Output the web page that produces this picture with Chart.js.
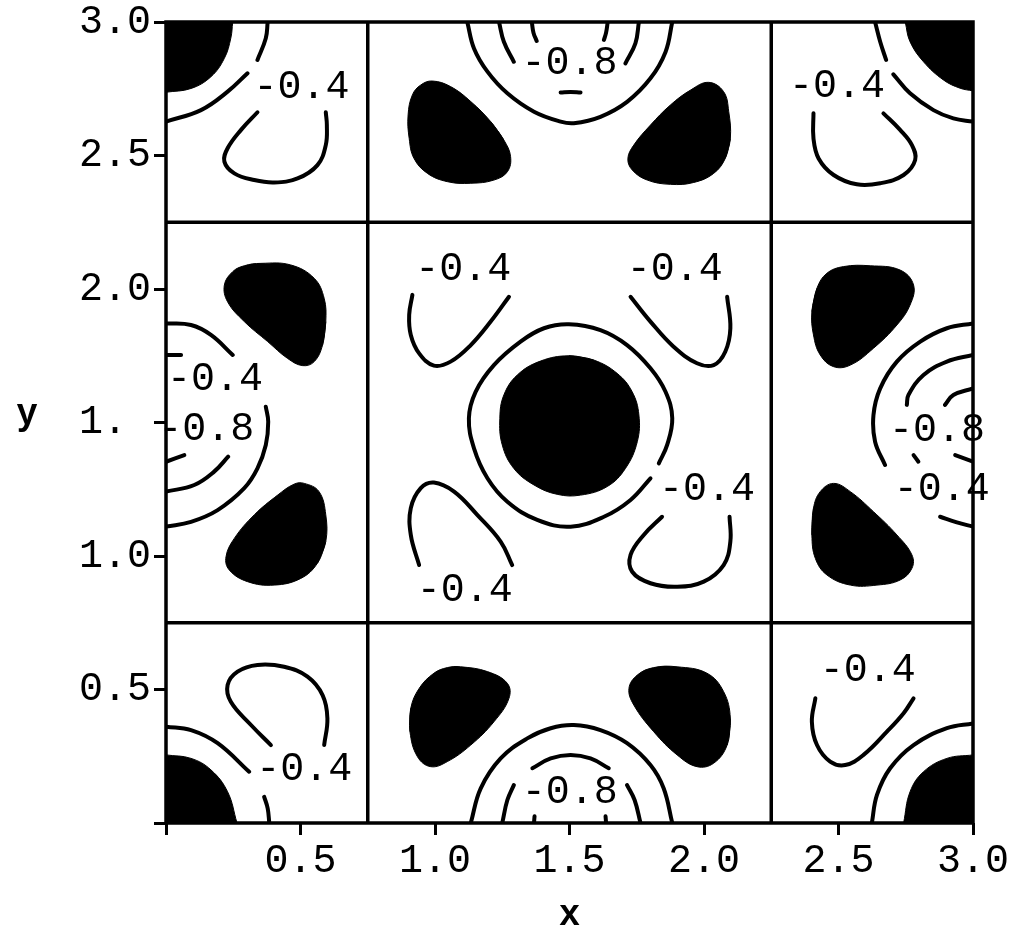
<!DOCTYPE html>
<html>
<head>
<meta charset="utf-8">
<script src="https://cdn.jsdelivr.net/npm/chart.js@4.4.1/dist/chart.umd.min.js"></script>
<style>
  html, body { margin: 0; padding: 0; background: #fff; }
  canvas { display: block; }
</style>
</head>
<body>
<canvas id="contour-chart" width="1012" height="932"></canvas>
<script>
// tick text, indexed by value * 2
const xTickText = ['', '0.5', '1.0', '1.5', '2.0', '2.5', '3.0'];
const yTickText = ['', '0.5', '1.0', '1. ', '2.0', '2.5', '3.0'];
const cellEdges = [0.75, 2.25];

// filled islands, closed outlines [x, y]
const blobCenter = [[1.498,1.750],[1.590,1.734],[1.677,1.684],[1.733,1.615],[1.758,1.528],[1.752,1.428],[1.708,1.328],[1.640,1.260],[1.541,1.228],[1.454,1.231],[1.368,1.266],[1.293,1.328],[1.250,1.416],[1.241,1.516],[1.256,1.603],[1.306,1.678],[1.392,1.730]];
const blobTopL = [[1.207,2.627],[1.256,2.558],[1.281,2.496],[1.269,2.439],[1.219,2.408],[1.133,2.396],[1.046,2.402],[0.972,2.433],[0.922,2.489],[0.904,2.564],[0.900,2.652],[0.916,2.727],[0.947,2.764],[0.990,2.779],[1.058,2.758],[1.133,2.702]];
const blobTopR = [[2.098,2.564],[2.079,2.489],[2.036,2.433],[1.962,2.399],[1.875,2.392],[1.789,2.408],[1.733,2.446],[1.717,2.489],[1.739,2.539],[1.801,2.614],[1.875,2.689],[1.950,2.745],[2.017,2.774],[2.073,2.739],[2.092,2.664]];
const blobMidLU = [[0.594,1.878],[0.582,1.790],[0.551,1.728],[0.508,1.713],[0.452,1.740],[0.378,1.803],[0.291,1.878],[0.229,1.952],[0.217,2.015],[0.248,2.065],[0.291,2.087],[0.353,2.096],[0.464,2.090],[0.551,2.040],[0.588,1.965]];
const blobMidLD = [[0.594,1.054],[0.563,0.973],[0.501,0.916],[0.402,0.891],[0.303,0.904],[0.235,0.948],[0.223,0.997],[0.254,1.066],[0.328,1.154],[0.415,1.228],[0.476,1.269],[0.514,1.272],[0.569,1.241],[0.594,1.154]];
const blobMidRU = [[2.401,1.915],[2.420,2.003],[2.457,2.059],[2.519,2.084],[2.618,2.087],[2.729,2.071],[2.779,2.015],[2.766,1.940],[2.717,1.865],[2.630,1.778],[2.544,1.715],[2.482,1.709],[2.432,1.753],[2.407,1.828]];
const blobMidRD = [[2.401,1.079],[2.407,1.179],[2.432,1.241],[2.482,1.272],[2.544,1.241],[2.630,1.166],[2.717,1.079],[2.773,1.004],[2.773,0.954],[2.729,0.910],[2.643,0.891],[2.544,0.891],[2.457,0.929],[2.414,0.991]];
const blobBotL = [[0.907,0.342],[0.910,0.430],[0.941,0.504],[0.996,0.561],[1.046,0.582],[1.095,0.585],[1.195,0.567],[1.269,0.523],[1.275,0.467],[1.219,0.379],[1.133,0.292],[1.046,0.230],[0.984,0.211],[0.935,0.248]];
const blobBotR = [[2.098,0.392],[2.086,0.292],[2.036,0.224],[1.974,0.211],[1.900,0.255],[1.813,0.342],[1.739,0.442],[1.721,0.504],[1.752,0.554],[1.813,0.582],[1.900,0.585],[2.011,0.561],[2.073,0.492]];

// corner caps: edge of the fill, filled out to the top or bottom of the plot
const capTopL = [[0.0,2.737],[0.093,2.751],[0.167,2.795],[0.217,2.864],[0.241,2.940],[0.248,3.0]];
const capTopR = [[2.748,3.0],[2.766,2.926],[2.816,2.851],[2.890,2.783],[2.952,2.752],[3.0,2.742]];
const capBotL = [[0.0,0.255],[0.093,0.242],[0.167,0.199],[0.229,0.117],[0.264,0.0]];
const capBotR = [[2.742,0.0],[2.766,0.117],[2.816,0.192],[2.903,0.242],[3.0,0.255]];

// contour lines (broken where a level label sits)
const ringCenter = [[1.801,1.291],[1.727,1.210],[1.628,1.147],[1.504,1.110],[1.380,1.135],[1.269,1.203],[1.195,1.291],[1.145,1.403],[1.126,1.516],[1.151,1.615],[1.219,1.715],[1.318,1.803],[1.405,1.853],[1.498,1.868],[1.615,1.846],[1.714,1.790],[1.801,1.703],[1.857,1.615],[1.882,1.516],[1.863,1.416],[1.832,1.347]];
const hookCenterUL = [[0.916,1.978],[0.904,1.903],[0.910,1.828],[0.941,1.759],[0.996,1.713],[1.058,1.728],[1.133,1.790],[1.207,1.878],[1.275,1.971]];
const hookCenterUR = [[1.727,1.971],[1.801,1.878],[1.887,1.784],[1.974,1.722],[2.036,1.715],[2.079,1.765],[2.098,1.853],[2.086,1.971]];
const hookCenterLL = [[0.941,0.966],[0.910,1.079],[0.910,1.179],[0.947,1.254],[0.996,1.275],[1.071,1.241],[1.157,1.154],[1.244,1.054],[1.287,0.966]];
const hookCenterLR = [[1.844,1.147],[1.776,1.079],[1.727,1.004],[1.733,0.941],[1.801,0.898],[1.900,0.885],[1.999,0.904],[2.073,0.966],[2.098,1.054],[2.095,1.147]];

const arcTopLA = [[0.378,3.0],[0.371,2.939],[0.340,2.858]];
const arcTopLB = [[0.303,2.808],[0.229,2.739],[0.130,2.670],[0.0,2.627]];
const hookTopL = [[0.340,2.662],[0.279,2.596],[0.229,2.527],[0.217,2.477],[0.254,2.433],[0.328,2.408],[0.402,2.399],[0.489,2.414],[0.563,2.464],[0.594,2.539],[0.598,2.614],[0.594,2.662]];
const arcTopRA = [[2.636,3.0],[2.655,2.926],[2.677,2.858]];
const arcTopRB = [[2.704,2.804],[2.766,2.733],[2.853,2.670],[2.927,2.639],[3.0,2.627]];
const hookTopR = [[2.407,2.658],[2.407,2.564],[2.426,2.489],[2.482,2.427],[2.568,2.392],[2.655,2.396],[2.742,2.427],[2.785,2.483],[2.773,2.539],[2.729,2.596],[2.667,2.658]];
const arcBotLA = [[0.0,0.361],[0.093,0.348],[0.192,0.299],[0.309,0.192]];
const arcBotLB = [[0.365,0.098],[0.378,0.055],[0.384,0.0]];
const hookBotL = [[0.390,0.292],[0.316,0.367],[0.241,0.454],[0.229,0.517],[0.266,0.567],[0.340,0.592],[0.439,0.585],[0.526,0.548],[0.582,0.479],[0.600,0.392],[0.588,0.292]];
const arcBotR = [[2.624,0.0],[2.643,0.105],[2.692,0.205],[2.779,0.292],[2.903,0.355],[3.0,0.373]];
const hookBotR = [[2.414,0.467],[2.401,0.379],[2.420,0.292],[2.469,0.230],[2.525,0.217],[2.593,0.255],[2.680,0.342],[2.742,0.411],[2.779,0.467]];

// rings round the troughs on the edges
const troughTopOuter = [[1.120,3.0],[1.145,2.901],[1.195,2.814],[1.269,2.733],[1.368,2.664],[1.467,2.627],[1.516,2.621],[1.615,2.645],[1.714,2.701],[1.801,2.789],[1.857,2.888],[1.882,3.0]];
const troughTopMidA = [[1.238,3.0],[1.256,2.926],[1.293,2.851]];
const troughTopMidB = [[1.708,2.845],[1.745,2.920],[1.758,3.0]];
const troughTopMidC = [[1.467,2.736],[1.504,2.738],[1.541,2.736]];
const troughTopInA = [[1.360,3.0],[1.366,2.960],[1.378,2.929]];
const troughTopInB = [[1.642,3.0],[1.636,2.960],[1.628,2.933]];
const troughBotOuter = [[1.133,0.0],[1.170,0.130],[1.244,0.242],[1.343,0.317],[1.430,0.355],[1.516,0.367],[1.615,0.348],[1.714,0.299],[1.801,0.217],[1.850,0.130],[1.882,0.0]];
const troughBotMidA = [[1.362,0.205],[1.430,0.242],[1.504,0.255],[1.578,0.242],[1.646,0.205]];
const troughBotMidB = [[1.293,0.142],[1.269,0.086],[1.250,0.0]];
const troughBotMidC = [[1.714,0.142],[1.742,0.086],[1.764,0.0]];
const troughBotInA = [[1.368,0.0],[1.370,0.025]];
const troughBotInB = [[1.636,0.0],[1.634,0.025]];
const troughLeftOuterA = [[0.0,1.871],[0.093,1.865],[0.167,1.828],[0.248,1.753]];
const troughLeftOuterB = [[0.371,1.559],[0.380,1.503],[0.371,1.416],[0.340,1.328],[0.291,1.254],[0.192,1.172],[0.093,1.128],[0.0,1.110]];
const troughLeftMidA = [[0.0,1.753],[0.056,1.753]];
const troughLeftMidB = [[0.0,1.241],[0.105,1.266],[0.179,1.316],[0.231,1.372]];
const troughLeftIn = [[0.0,1.353],[0.068,1.378]];
const troughRightOuterA = [[3.0,1.871],[2.903,1.853],[2.804,1.803],[2.717,1.728],[2.655,1.628],[2.630,1.528],[2.636,1.428],[2.673,1.341]];
const troughRightOuterB = [[2.878,1.147],[2.940,1.126],[3.0,1.110]];
const troughRightMidA = [[3.0,1.753],[2.903,1.728],[2.816,1.678],[2.760,1.603],[2.754,1.566]];
const troughRightMidB = [[2.779,1.378],[2.797,1.353]];
const troughRightInA = [[2.896,1.566],[2.927,1.603],[3.0,1.628]];
const troughRightInB = [[2.934,1.378],[3.0,1.353]];

// level labels and where they sit
const labelText = ['-0.4', '-0.8', '-0.4', '-0.4', '-0.8', '-0.4', '-0.4', '-0.4', '-0.4', '-0.8', '-0.4', '-0.4', '-0.8', '-0.4'];
const labelAt = [[0.504,2.765],[1.500,2.854],[2.494,2.768],[0.182,1.670],[0.150,1.484],[1.105,2.081],[1.891,2.081],[1.111,0.882],[2.011,1.260],[2.866,1.478],[2.884,1.257],[0.514,0.208],[1.501,0.124],[2.609,0.579]];

const ink = '#000';
const monoFont = '"Liberation Mono", "DejaVu Sans Mono", monospace';

const blobs = [blobCenter, blobTopL, blobTopR, blobMidLU, blobMidLD, blobMidRU, blobMidRD, blobBotL, blobBotR];
const caps = [[capTopL, 'end'], [capTopR, 'end'], [capBotL, 'start'], [capBotR, 'start']];
const contours = [
  ringCenter, hookCenterUL, hookCenterUR, hookCenterLL, hookCenterLR,
  arcTopLA, arcTopLB, hookTopL, arcTopRA, arcTopRB, hookTopR,
  arcBotLA, arcBotLB, hookBotL, arcBotR, hookBotR,
  troughTopOuter, troughTopMidA, troughTopMidB, troughTopMidC, troughTopInA, troughTopInB,
  troughBotOuter, troughBotMidA, troughBotMidB, troughBotMidC, troughBotInA, troughBotInB,
  troughLeftOuterA, troughLeftOuterB, troughLeftMidA, troughLeftMidB, troughLeftIn,
  troughRightOuterA, troughRightOuterB, troughRightMidA, troughRightMidB, troughRightInA, troughRightInB
];

function toPoints(list) {
  return list.map(([x, y]) => ({ x, y }));
}

const datasets = [];
blobs.forEach(b => {
  // run one point past the start so the join keeps its curve
  datasets.push({
    data: toPoints([...b, b[0], b[1]]),
    fill: 'shape', backgroundColor: ink, borderColor: ink, borderWidth: 1, tension: 0.4
  });
});
caps.forEach(([c, side]) => {
  datasets.push({
    data: toPoints(c),
    fill: side, backgroundColor: ink, borderColor: ink, borderWidth: 1, tension: 0.4
  });
});
contours.forEach(c => {
  datasets.push({
    data: toPoints(c),
    fill: false, borderColor: ink, borderWidth: 4, tension: 0.4, borderCapStyle: 'round'
  });
});

// frame, cell edges, level labels and axis names
const plotDecor = {
  id: 'plotDecor',
  afterDatasetsDraw(chart) {
    const { ctx, chartArea: a, scales: { x, y } } = chart;
    ctx.save();
    ctx.strokeStyle = ink;
    ctx.lineWidth = 3.5;
    cellEdges.forEach(v => {
      const px = x.getPixelForValue(v);
      const py = y.getPixelForValue(v);
      ctx.beginPath(); ctx.moveTo(px, a.top); ctx.lineTo(px, a.bottom); ctx.stroke();
      ctx.beginPath(); ctx.moveTo(a.left, py); ctx.lineTo(a.right, py); ctx.stroke();
    });
    ctx.strokeRect(a.left, a.top, a.right - a.left, a.bottom - a.top);

    ctx.fillStyle = ink;
    ctx.font = '40px ' + monoFont;
    ctx.textAlign = 'center';
    ctx.textBaseline = 'alphabetic';
    labelText.forEach((t, i) => {
      const [lx, ly] = labelAt[i];
      ctx.fillText(t, x.getPixelForValue(lx), y.getPixelForValue(ly) + 13);
    });

    ctx.font = 'bold 36px ' + monoFont;
    ctx.fillText('x', (a.left + a.right) / 2, 925);
    ctx.fillText('y', 27, 424);
    ctx.restore();
  }
};

const tickFont = { family: monoFont, size: 40 };

new Chart(document.getElementById('contour-chart'), {
  type: 'scatter',
  data: { datasets },
  options: {
    responsive: false,
    animation: false,
    layout: { padding: { top: 22, right: 39, bottom: 0, left: 0 } },
    elements: { point: { radius: 0, hoverRadius: 0 } },
    datasets: { scatter: { showLine: true } },
    plugins: { legend: { display: false }, tooltip: { enabled: false } },
    scales: {
      x: {
        type: 'linear', min: 0, max: 3,
        border: { display: false },
        grid: { drawOnChartArea: false, drawTicks: true, tickLength: 12, tickWidth: 3, tickColor: ink },
        ticks: {
          stepSize: 0.5, autoSkip: false, maxRotation: 0, padding: 2, color: ink, font: tickFont,
          callback: v => xTickText[Math.round(v * 2)]
        },
        afterFit: s => { s.height = 109; s.paddingLeft = 0; s.paddingRight = 0; }
      },
      y: {
        type: 'linear', min: 0, max: 3,
        border: { display: false },
        grid: { drawOnChartArea: false, drawTicks: true, tickLength: 12, tickWidth: 3, tickColor: ink },
        ticks: {
          stepSize: 0.5, autoSkip: false, padding: 3, color: ink, font: tickFont,
          callback: v => yTickText[Math.round(v * 2)]
        },
        afterFit: s => { s.width = 166; s.paddingTop = 0; s.paddingBottom = 0; }
      }
    }
  },
  plugins: [plotDecor]
});
</script>
</body>
</html>
